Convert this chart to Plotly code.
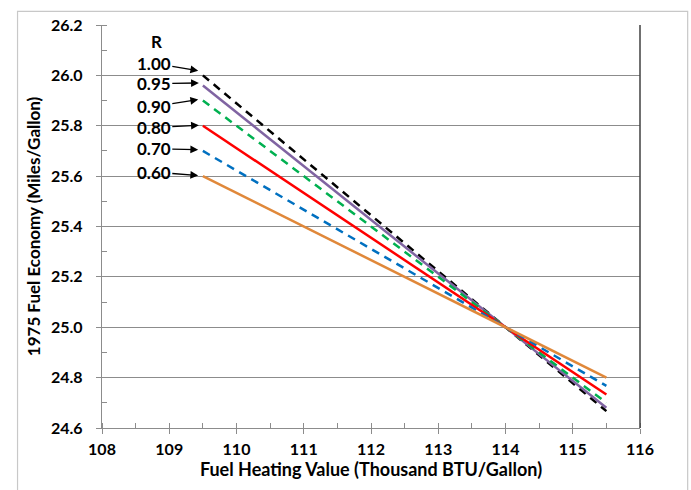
import plotly.graph_objects as go

# Data
x_vals = [109.5, 114.0, 115.5]
r_labels = ["1.00", "0.95", "0.90", "0.80", "0.70", "0.60"]
y_r100 = [26.00, 25.00, 24.667]
y_r095 = [25.96, 25.00, 24.680]
y_r090 = [25.90, 25.00, 24.700]
y_r080 = [25.80, 25.00, 24.733]
y_r070 = [25.70, 25.00, 24.767]
y_r060 = [25.60, 25.00, 24.800]
x_ticks = [108, 109, 110, 111, 112, 113, 114, 115, 116]
y_ticks = [24.6, 24.8, 25.0, 25.2, 25.4, 25.6, 25.8, 26.0, 26.2]

series = [
    (y_r100, "#000000", "8px,6px"),
    (y_r095, "#8064A2", "solid"),
    (y_r090, "#00B050", "8px,6px"),
    (y_r080, "#FF0000", "solid"),
    (y_r070, "#0070C0", "8px,6px"),
    (y_r060, "#E0883A", "solid"),
]

FONT = "Lato, 'Open Sans', sans-serif"

fig = go.Figure()
for (ys, col, dash), lab in zip(series, r_labels):
    fig.add_trace(go.Scatter(x=x_vals, y=ys, mode="lines", name=lab,
                             line=dict(color=col, width=2.5, dash=dash),
                             showlegend=False))

# label positions (text tail) and arrow heads
label_pos = [(108.77, 26.048, 109.46, 26.017),
             (108.77, 25.967, 109.47, 25.970),
             (108.77, 25.877, 109.46, 25.905),
             (108.77, 25.793, 109.47, 25.802),
             (108.77, 25.709, 109.46, 25.705),
             (108.77, 25.616, 109.46, 25.602)]

annotations = [dict(x=108.81, y=26.133, text="<b>R</b>", showarrow=False,
                    xref="x", yref="y", font=dict(size=17, family=FONT, color="black"))]
for lab, (tx, ty, hx, hy) in zip(r_labels, label_pos):
    annotations.append(dict(x=hx, y=hy, ax=tx, ay=ty, axref="x", ayref="y",
                            xref="x", yref="y", text="<b>%s</b>" % lab,
                            showarrow=True, arrowhead=2, arrowsize=1.2, arrowwidth=1.3,
                            arrowcolor="black", standoff=2,
                            font=dict(size=17, family=FONT, color="black")))

fig.update_layout(
    width=691, height=490,
    margin=dict(l=102, r=51, t=25, b=62),
    paper_bgcolor="white", plot_bgcolor="white",
    font=dict(family=FONT, color="black"),
    annotations=annotations,
    xaxis=dict(range=[108, 116], tickvals=x_ticks, ticktext=["<b>%d</b>" % v for v in x_ticks],
               showgrid=False, showline=True, linecolor="#8c8c8c", linewidth=1.3,
               ticks="outside", ticklen=5, tickcolor="#8c8c8c",
               minor=dict(ticks="inside", dtick=0.5, ticklen=5, tickcolor="#8c8c8c"),
               tickfont=dict(size=16, family=FONT, color="black"),
               ticklabelstandoff=2,
               title=dict(text="<b>Fuel Heating Value (Thousand BTU/Gallon)</b>",
                          font=dict(size=18, family=FONT, color="black"), standoff=1),
               zeroline=False, mirror=False),
    yaxis=dict(range=[24.6, 26.2], tickvals=y_ticks, ticktext=["<b>%.1f</b>" % v for v in y_ticks],
               showgrid=True, gridcolor="#8c8c8c", gridwidth=1.2,
               showline=True, linecolor="#8c8c8c", linewidth=1.3,
               ticks="outside", ticklen=5, tickcolor="#8c8c8c",
               minor=dict(ticks="inside", dtick=0.1, ticklen=5, tickcolor="#8c8c8c", showgrid=False),
               tickfont=dict(size=16, family=FONT, color="black"),
               ticklabelstandoff=10,
               title=dict(text="<b>1975 Fuel Economy (Miles/Gallon)</b>",
                          font=dict(size=17, family=FONT, color="black"), standoff=6),
               zeroline=False),
    shapes=[
        dict(type="line", xref="paper", yref="paper", x0=1, x1=1, y0=0, y1=1,
             line=dict(color="#404040", width=1.5)),
        dict(type="rect", xref="paper", yref="paper", x0=-0.157, x1=1.0886, y0=-0.25, y1=1.034,
             line=dict(color="#c8c8c8", width=1.2), layer="below"),
    ],
)

fig.write_html("out.html")
